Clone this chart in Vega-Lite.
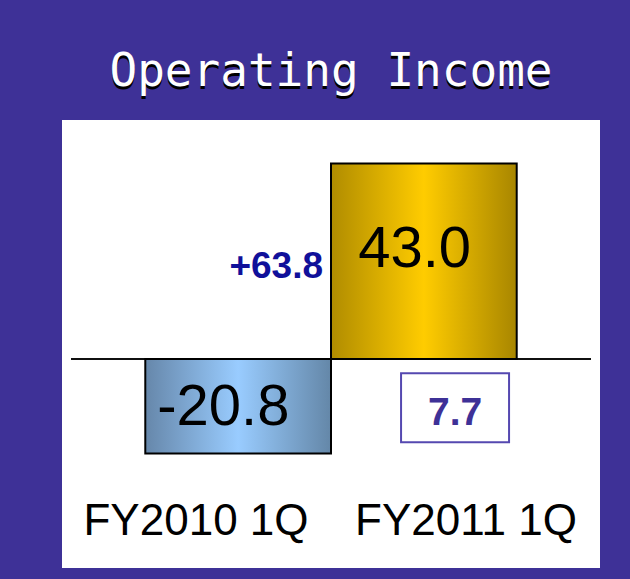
{
  "$schema": "https://vega.github.io/schema/vega-lite/v6.json",
  "width": 520,
  "height": 430,
  "autosize": {"type": "none"},
  "padding": {"left": 71, "top": 129, "right": 39, "bottom": 20},
  "background": "#3E3197",
  "config": {"view": {"fill": "white", "stroke": "white", "strokeWidth": 18}},
  "title": {
    "text": "Operating Income",
    "subtitle": "Operating Income",
    "color": "black",
    "subtitleColor": "white",
    "font": "DejaVu Sans Mono",
    "subtitleFont": "DejaVu Sans Mono",
    "fontSize": 46,
    "subtitleFontSize": 46,
    "fontWeight": "normal",
    "subtitleFontWeight": "normal",
    "subtitlePadding": -49,
    "anchor": "middle",
    "frame": "group",
    "offset": 27
  },
  "datasets": {
    "income": [
      {"period": "FY2010 1Q", "value": -20.8, "label": "-20.8"},
      {"period": "FY2011 1Q", "value": 43.0, "label": "43.0"}
    ],
    "notes": [
      {"period": "FY2011 1Q", "change": "+63.8", "other": "7.7"}
    ]
  },
  "data": {"name": "income"},
  "resolve": {"scale": {"x": "independent"}},
  "layer": [
    {
      "layer": [
        {
          "transform": [{"filter": "datum.period === 'FY2010 1Q'"}],
          "mark": {
            "type": "bar",
            "stroke": "black",
            "strokeWidth": 2,
            "fill": {
              "gradient": "linear", "x1": 0, "y1": 0, "x2": 1, "y2": 0,
              "stops": [
                {"offset": 0, "color": "#6687AA"},
                {"offset": 0.5, "color": "#99CCFF"},
                {"offset": 1, "color": "#6487A8"}
              ]
            }
          },
          "encoding": {
            "x": {"field": "period", "type": "nominal", "axis": null,
                  "scale": {"type": "band", "domain": ["FY2010 1Q", "FY2011 1Q"], "paddingInner": 0, "paddingOuter": 0.4}},
            "y": {"field": "value", "type": "quantitative", "axis": null,
                  "scale": {"domain": [-44, 50.6], "nice": false, "zero": false}}
          }
        },
        {
          "transform": [{"filter": "datum.period === 'FY2011 1Q'"}],
          "mark": {
            "type": "bar",
            "stroke": "black",
            "strokeWidth": 2,
            "fill": {
              "gradient": "linear", "x1": 0, "y1": 0, "x2": 1, "y2": 0,
              "stops": [
                {"offset": 0, "color": "#B08C00"},
                {"offset": 0.5, "color": "#FFCC00"},
                {"offset": 1, "color": "#A88600"}
              ]
            }
          },
          "encoding": {
            "x": {"field": "period", "type": "nominal", "axis": null},
            "y": {"field": "value", "type": "quantitative", "axis": null}
          }
        },
        {
          "mark": {"type": "rule", "color": "black", "strokeWidth": 1.5},
          "encoding": {"y": {"datum": 0, "type": "quantitative"}}
        },
        {
          "transform": [{"filter": "datum.period === 'FY2010 1Q'"}],
          "mark": {"type": "text", "font": "Liberation Sans, Arial, sans-serif", "fontSize": 58, "color": "black", "align": "center", "baseline": "alphabetic"},
          "encoding": {
            "x": {"field": "period", "type": "nominal", "bandPosition": 0.42},
            "y": {"datum": -14.5, "type": "quantitative"},
            "text": {"field": "label"}
          }
        },
        {
          "transform": [{"filter": "datum.period === 'FY2011 1Q'"}],
          "mark": {"type": "text", "font": "Liberation Sans, Arial, sans-serif", "fontSize": 58, "color": "black", "align": "center", "baseline": "alphabetic"},
          "encoding": {
            "x": {"field": "period", "type": "nominal", "bandPosition": 0.45},
            "y": {"datum": 20.2, "type": "quantitative"},
            "text": {"field": "label"}
          }
        },
        {
          "data": {"name": "notes"},
          "mark": {"type": "text", "font": "Liberation Sans, Arial, sans-serif", "fontWeight": "bold", "fontSize": 37, "color": "#10109A", "align": "right", "baseline": "alphabetic", "dx": -8},
          "encoding": {
            "x": {"field": "period", "type": "nominal", "bandPosition": 0},
            "y": {"datum": 17.8, "type": "quantitative"},
            "text": {"field": "change"}
          }
        },
        {
          "data": {"name": "notes"},
          "mark": {"type": "point", "shape": "M-1,-0.639L1,-0.639L1,0.639L-1,0.639Z", "size": 11664, "filled": false, "stroke": "#5548B0", "strokeWidth": 2, "opacity": 1},
          "encoding": {
            "x": {"field": "period", "type": "nominal", "bandPosition": 0.668},
            "y": {"datum": -10.7, "type": "quantitative"}
          }
        },
        {
          "data": {"name": "notes"},
          "mark": {"type": "text", "font": "Liberation Sans, Arial, sans-serif", "fontWeight": "bold", "fontSize": 39, "color": "#3E3197", "align": "center", "baseline": "alphabetic"},
          "encoding": {
            "x": {"field": "period", "type": "nominal", "bandPosition": 0.668},
            "y": {"datum": -14.5, "type": "quantitative"},
            "text": {"field": "other"}
          }
        }
      ]
    },
    {
      "mark": {"type": "text", "font": "Liberation Sans, Arial, sans-serif", "fontSize": 44, "color": "black", "align": "center", "baseline": "alphabetic"},
      "encoding": {
        "x": {"field": "period", "type": "nominal", "axis": null,
              "scale": {"type": "point", "domain": ["FY2010 1Q", "FY2011 1Q"], "padding": 0.463}},
        "y": {"datum": -38.7, "type": "quantitative"},
        "text": {"field": "period"}
      }
    }
  ]
}
